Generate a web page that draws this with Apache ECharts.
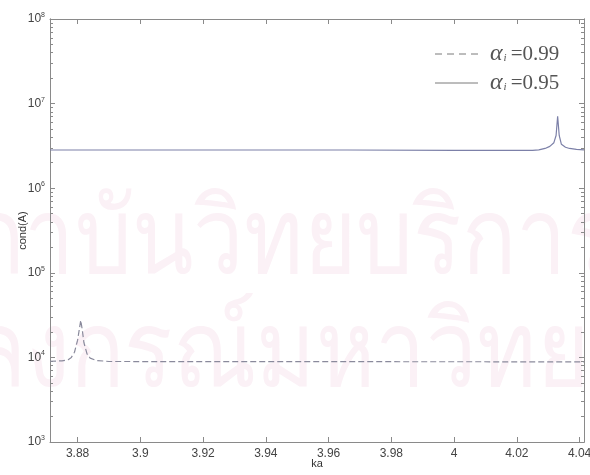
<!DOCTYPE html>
<html>
<head>
<meta charset="utf-8">
<script src="https://cdn.jsdelivr.net/npm/echarts@6/dist/echarts.min.js"></script>
<style>
  html, body { margin: 0; padding: 0; background: #fff; }
  #chart { width: 590px; height: 475px; }
</style>
</head>
<body>
<div id="chart"></div>
<script>
// Condition number cond(A) against ka for two values of alpha_i
const kaTicks = [3.88, 3.9, 3.92, 3.94, 3.96, 3.98, 4.0, 4.02, 4.04];
const condMajor = [1e3, 1e4, 1e5, 1e6, 1e7, 1e8];

// alpha_i = 0.99 (dashed)
const ka099 = [3.8712, 3.875, 3.877, 3.878, 3.879, 3.88, 3.8805, 3.881, 3.8815, 3.882, 3.883, 3.884, 3.886, 3.89, 3.92, 3.96, 4.0, 4.0414];
const cond099 = [9.0e3, 9.1e3, 9.4e3, 1.0e4, 1.15e4, 1.6e4, 2.1e4, 2.75e4, 2.1e4, 1.5e4, 1.1e4, 9.8e3, 9.2e3, 8.95e3, 8.9e3, 8.9e3, 8.88e3, 8.87e3];

// alpha_i = 0.95 (solid)
const ka095 = [3.8712, 3.92, 3.966, 3.9665, 4.0, 4.025, 4.027, 4.029, 4.0305, 4.0318, 4.0325, 4.033, 4.0335, 4.0342, 4.0355, 4.0368, 4.039, 4.0414];
const cond095 = [2.83e6, 2.83e6, 2.83e6, 2.80e6, 2.80e6, 2.80e6, 2.84e6, 2.95e6, 3.12e6, 3.45e6, 4.2e6, 7.1e6, 4.2e6, 3.3e6, 3.05e6, 2.95e6, 2.87e6, 2.84e6];

const legendValues = ['0.99', '0.95'];

// background watermark lines
const markLine1 = 'สถาบันวิทยบริการ';
const markLine2 = 'จุฬาลงกรณ์มหาวิทยาลัย';

// minor log ticks 2..9 in each decade
const condMinor = [];
for (let d = 3; d < 8; d++) {
  for (let m = 2; m <= 9; m++) condMinor.push(m * Math.pow(10, d));
}

const pair = (xs, ys) => xs.map((x, i) => [x, ys[i]]);

const axisGrey = '#8a8a8a';
const labelGrey = '#444';
const sans = '"Liberation Sans", Arial, sans-serif';
const xMin = 3.8712, xMax = 4.0414;

// watermark is drawn horizontally condensed; chosen glyphs start at fixed x positions
const markFont = '106px "Noto Sans", sans-serif';
const markScaleX = 0.85;
const ctx = document.createElement('canvas').getContext('2d');
ctx.font = markFont;
const mark1Left = 132 - ctx.measureText('สถาบั').width * markScaleX;
const mark2Left = 70 - ctx.measureText('จุฬาลง').width * markScaleX;

const chart = echarts.init(document.getElementById('chart'), null, { renderer: 'canvas' });

const logAxis = (extra) => Object.assign({
  type: 'log', logBase: 10, min: 1e3, max: 1e8,
  axisLine: { show: true, lineStyle: { color: axisGrey, width: 1 } },
  splitLine: { show: false },
  axisLabel: { show: false },
  axisTick: { show: false }
}, extra);

// legend drawn in serif with subscript i
const legendRows = [
  { y: 54, dash: [7, 5], value: legendValues[0] },
  { y: 83, dash: null, value: legendValues[1] }
];
const legendGfx = [];
legendRows.forEach(r => {
  legendGfx.push({
    type: 'line', silent: true, z: 20,
    shape: { x1: 435, y1: r.y, x2: 478, y2: r.y },
    style: { stroke: '#7a7a7a', lineWidth: 1, lineDash: r.dash }
  });
  legendGfx.push({
    type: 'text', silent: true, z: 20, x: 490, y: r.y,
    style: {
      text: '{a|α}{i|i}{e|=' + r.value + '}',
      verticalAlign: 'middle',
      rich: {
        a: { font: 'italic 24px "Liberation Serif", "DejaVu Serif", serif', fill: '#555' },
        i: { font: 'italic 11px "Liberation Serif", serif', fill: '#555', padding: [9, 4, 0, 1] },
        e: { font: '21px "Liberation Serif", "DejaVu Serif", serif', fill: '#555' }
      }
    }
  });
});

chart.setOption({
  animation: false,
  backgroundColor: '#fff',
  grid: { left: 50, right: 6, top: 19, bottom: 33, outerBoundsMode: 'none', containLabel: false },
  graphic: [
    {
      type: 'text', z: -10, silent: true, x: mark1Left, y: 190, scaleX: markScaleX,
      style: { text: markLine1, font: markFont, fill: '#fbf1f6' }
    },
    {
      type: 'text', z: -10, silent: true, x: mark2Left, y: 303, scaleX: markScaleX,
      style: { text: markLine2, font: markFont, fill: '#fbf1f6' }
    }
  ].concat(legendGfx),
  xAxis: [
    {
      type: 'value', min: xMin, max: xMax, position: 'bottom',
      name: 'ka', nameLocation: 'middle', nameGap: 16, nameMoveOverlap: false,
      nameTextStyle: { color: '#333', fontFamily: sans, fontSize: 11 },
      axisLine: { show: true, onZero: false, lineStyle: { color: axisGrey } },
      splitLine: { show: false },
      axisTick: { show: true, inside: true, length: 5, customValues: kaTicks, lineStyle: { color: axisGrey } },
      axisLabel: {
        show: true, customValues: kaTicks, margin: 6,
        color: labelGrey, fontFamily: sans, fontSize: 12,
        formatter: v => String(+v.toFixed(2))
      }
    },
    {
      type: 'value', min: xMin, max: xMax, position: 'top',
      axisLine: { show: true, onZero: false, lineStyle: { color: axisGrey } },
      splitLine: { show: false },
      axisTick: { show: true, inside: true, length: 5, customValues: kaTicks, lineStyle: { color: axisGrey } },
      axisLabel: { show: false }
    }
  ],
  yAxis: [
    logAxis({
      position: 'left',
      name: 'cond(A)', nameLocation: 'middle', nameGap: 22, nameRotate: 90, nameMoveOverlap: false,
      nameTextStyle: { color: '#333', fontFamily: sans, fontSize: 11 },
      axisTick: { show: true, inside: true, length: 5, customValues: condMajor, lineStyle: { color: axisGrey } },
      axisLabel: {
        show: true, customValues: condMajor, margin: 5,
        formatter: v => '{b|10}{s|' + Math.round(Math.log10(v)) + '}',
        rich: {
          b: { color: labelGrey, fontFamily: sans, fontSize: 12 },
          s: { color: labelGrey, fontFamily: sans, fontSize: 7, padding: [0, 0, 8, 0] }
        }
      }
    }),
    logAxis({
      position: 'left',
      axisTick: { show: true, inside: true, length: 3, customValues: condMinor, lineStyle: { color: axisGrey } }
    }),
    logAxis({
      position: 'right',
      axisTick: { show: true, inside: true, length: 5, customValues: condMajor, lineStyle: { color: axisGrey } }
    }),
    logAxis({
      position: 'right',
      axisTick: { show: true, inside: true, length: 3, customValues: condMinor, lineStyle: { color: axisGrey } }
    })
  ],
  legend: { show: false },
  series: [
    {
      name: 'alpha_i=0.99', type: 'line', xAxisIndex: 0, yAxisIndex: 0,
      data: pair(ka099, cond099), showSymbol: false, symbol: 'none',
      lineStyle: { color: '#8a8a9c', width: 1.2, type: [6, 3] }
    },
    {
      name: 'alpha_i=0.95', type: 'line', xAxisIndex: 0, yAxisIndex: 0,
      data: pair(ka095, cond095), showSymbol: false, symbol: 'none',
      lineStyle: { color: '#7c80a8', width: 1.2, type: 'solid' }
    }
  ]
});
</script>
</body>
</html>
